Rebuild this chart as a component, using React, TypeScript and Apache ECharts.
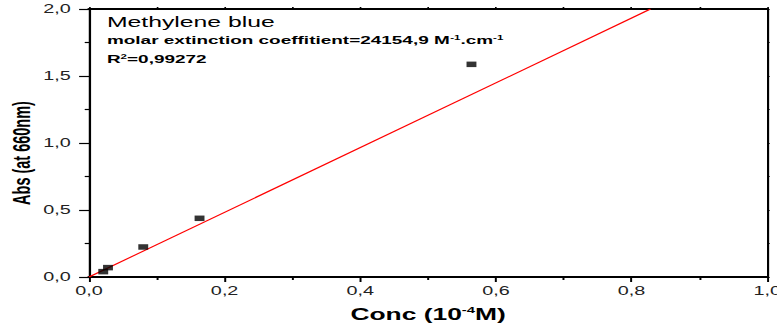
import React, { useEffect, useRef } from "react";
import * as echarts from "echarts";

// Measured data (Conc in 10^-4 M, Abs at 660 nm)
const concX = [0.021, 0.028, 0.08, 0.163, 0.564];
const absY = [0.04, 0.07, 0.224, 0.438, 1.587];

// Linear fit line end points (slope 2.4155)
const fitX = [0, 0.828];
const fitY = [0, 2.0];

const xTicks = { min: 0, max: 1, interval: 0.2 };
const yTicks = { min: 0, max: 2, interval: 0.5 };

const titleLine = "Methylene blue";
const coefLine = "molar extinction coeffitient=24154,9 M";
const r2Value = "=0,99272";
const yName = "Abs (at 660nm)";

const S = 1.65; // horizontal stretch of the original figure
const W = 777;
const H = 329;
const IW = W / S;
const FONT = "'Liberation Sans', Arial, Helvetica, sans-serif";

const fmt = (v: number) => v.toFixed(1).replace(".", ",");

export default function App() {
  const ref = useRef<HTMLDivElement>(null);
  useEffect(() => {
    if (!ref.current) return;
    const chart = echarts.init(ref.current, undefined, { renderer: "svg" });
    const gridLeft = 89 / S;
    const gridRight = IW - 767 / S;
    chart.setOption({
      animation: false,
      backgroundColor: "#ffffff",
      grid: {
        left: gridLeft,
        right: gridRight,
        top: 9,
        bottom: 52,
        containLabel: false,
        outerBoundsMode: "none",
      },
      xAxis: [
        {
          type: "value",
          position: "bottom",
          min: xTicks.min,
          max: xTicks.max,
          interval: xTicks.interval,
          name: "{n|Conc (10}{s|-4}{n|M)}",
          nameLocation: "middle",
          nameGap: 29,
          nameTextStyle: {
            rich: {
              n: { fontFamily: FONT, fontWeight: "bold", fontSize: 16, color: "#000" },
              s: { fontFamily: FONT, fontWeight: "bold", fontSize: 9, color: "#000", verticalAlign: "top" },
            },
          },
          axisLine: { onZero: false, lineStyle: { color: "#000", width: 2 } },
          axisTick: { show: true, inside: false, length: 5, lineStyle: { color: "#000", width: 1.2 } },
          minorTick: { show: true, splitNumber: 2, length: 3, lineStyle: { color: "#000", width: 1.2 } },
          splitLine: { show: false },
          minorSplitLine: { show: false },
          axisLabel: { formatter: fmt, fontFamily: FONT, fontSize: 12, color: "#222", margin: 8 },
        },
        {
          type: "value",
          position: "top",
          min: xTicks.min,
          max: xTicks.max,
          interval: xTicks.interval,
          axisLine: { onZero: false, lineStyle: { color: "#000", width: 2 } },
          axisTick: { show: true, inside: false, length: 2, lineStyle: { color: "#000", width: 1 } },
          minorTick: { show: true, splitNumber: 2, length: 2, lineStyle: { color: "#000", width: 1 } },
          splitLine: { show: false },
          axisLabel: { show: false },
        },
      ],
      yAxis: [
        {
          type: "value",
          position: "left",
          min: yTicks.min,
          max: yTicks.max,
          interval: yTicks.interval,
          axisLine: { onZero: false, lineStyle: { color: "#000", width: 1.4 } },
          axisTick: { show: true, inside: false, length: 6, lineStyle: { color: "#000", width: 1.2 } },
          minorTick: { show: true, splitNumber: 2, length: 2.6, lineStyle: { color: "#000", width: 1.2 } },
          splitLine: { show: false },
          minorSplitLine: { show: false },
          axisLabel: { formatter: fmt, fontFamily: FONT, fontSize: 12, color: "#222", margin: 11 },
        },
        {
          type: "value",
          position: "right",
          min: yTicks.min,
          max: yTicks.max,
          interval: yTicks.interval,
          axisLine: { onZero: false, lineStyle: { color: "#000", width: 1.3 } },
          axisTick: { show: true, inside: false, length: 1.5, lineStyle: { color: "#000", width: 1 } },
          minorTick: { show: true, splitNumber: 2, length: 1.5, lineStyle: { color: "#000", width: 1 } },
          splitLine: { show: false },
          axisLabel: { show: false },
        },
      ],
      series: [
        {
          type: "line",
          xAxisIndex: 0,
          yAxisIndex: 0,
          data: fitX.map((x, i) => [x, fitY[i]]),
          symbol: "none",
          lineStyle: { color: "#ff0000", width: 1 },
          clip: true,
          z: 3,
        },
        {
          type: "scatter",
          xAxisIndex: 0,
          yAxisIndex: 0,
          data: concX.map((x, i) => [x, absY[i]]),
          symbol: "rect",
          symbolSize: [6, 5.5],
          itemStyle: { color: "#000" },
          z: 4,
        },
      ],
      graphic: [
        {
          type: "text",
          x: 13.2,
          y: 153,
          rotation: Math.PI / 2,
          style: {
            text: yName,
            fontFamily: FONT,
            fontWeight: "bold",
            fontSize: 14.5,
            fill: "#000",
            align: "center",
            verticalAlign: "middle",
          },
        },
        {
          type: "text",
          left: 64.8,
          top: 14,
          style: { text: titleLine, fontFamily: FONT, fontSize: 15, fill: "#000" },
        },
        {
          type: "text",
          left: 64.8,
          top: 34,
          style: {
            text: "{b|" + coefLine + "}{s|-1}{b|.cm}{s|-1}",
            rich: {
              b: { fontFamily: FONT, fontWeight: "bold", fontSize: 11.5, fill: "#000" },
              s: { fontFamily: FONT, fontWeight: "bold", fontSize: 7, fill: "#000", verticalAlign: "top" },
            },
          },
        },
        {
          type: "text",
          left: 64.8,
          top: 53,
          style: {
            text: "{b|R}{s|2}{b|" + r2Value + "}",
            rich: {
              b: { fontFamily: FONT, fontWeight: "bold", fontSize: 11.5, fill: "#000" },
              s: { fontFamily: FONT, fontWeight: "bold", fontSize: 7, fill: "#000", verticalAlign: "top" },
            },
          },
        },
      ],
    });
    return () => chart.dispose();
  }, []);

  return (
    <div
      style={{
        position: "fixed",
        left: 0,
        top: 0,
        width: W,
        height: H,
        overflow: "hidden",
        background: "#fff",
      }}
    >
      <div
        ref={ref}
        style={{
          width: IW,
          height: H,
          transform: `scaleX(${S})`,
          transformOrigin: "0 0",
        }}
      />
    </div>
  );
}
